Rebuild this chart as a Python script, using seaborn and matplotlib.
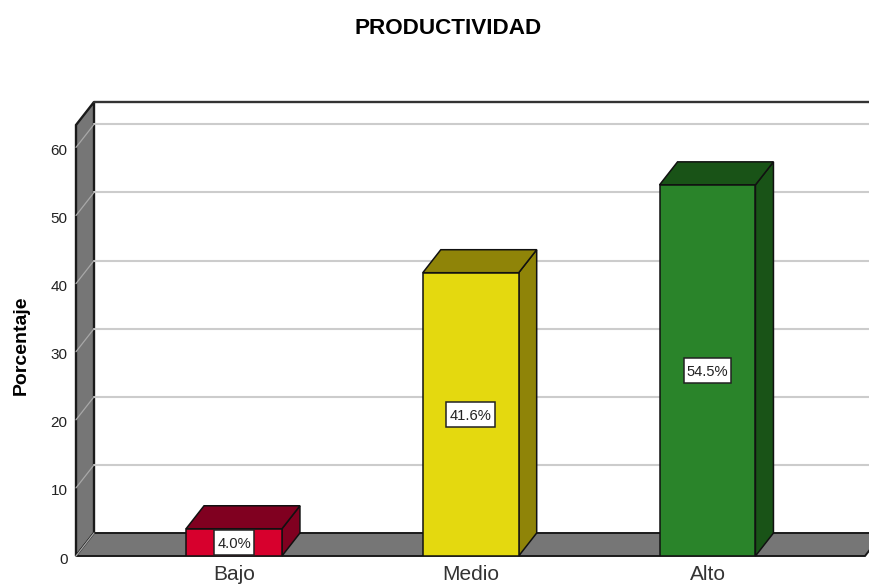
import matplotlib
matplotlib.use("Agg")
import matplotlib.pyplot as plt
from matplotlib.patches import Polygon, Rectangle
from matplotlib.transforms import ScaledTranslation
import pandas as pd
import seaborn as sns

categories = ["Bajo", "Medio", "Alto"]
values = [4.0, 41.6, 54.5]
labels = ["4.0%", "41.6%", "54.5%"]
front_colors = ["#D7002D", "#E4D90F", "#2A842A"]
dark_colors = ["#800020", "#8F8408", "#195317"]
yticks = [0, 10, 20, 30, 40, 50, 60]

W, H = 869, 587
FONT = "Liberation Sans"
WALL = "#767676"
GRID = "#CCCCCC"
EDGE = "#1A1A1A"
PX_DX, PX_DY = 18, 23
PX_X = 236.75
PX_Y = 6.81

sns.set_theme(style="white")
plt.rcParams["font.family"] = [FONT, "DejaVu Sans"]

fig = plt.figure(figsize=(W / 100, H / 100), dpi=100, facecolor="white")
L, R, T, B = 76, 869, 125, 556
ax = fig.add_axes([L / W, 1 - B / H, (R - L) / W, (B - T) / H])
ax.patch.set_alpha(0)

df = pd.DataFrame({"cat": categories, "val": values})
sns.barplot(data=df, x="cat", y="val", hue="cat", palette=front_colors,
            order=categories, hue_order=categories, dodge=False, legend=False,
            saturation=1, width=0.405, edgecolor="#111111", linewidth=1.1,
            zorder=3, ax=ax)

xmin, xmax = (L - 234) / PX_X, (R - 234) / PX_X
ymax = (B - T) / PX_Y
ax.set_xlim(xmin, xmax)
ax.set_ylim(0, ymax)
dx = PX_DX / PX_X
dy = PX_DY / PX_Y
floor_end = (865 - 234) / PX_X


def poly(points, face, z, edge=EDGE, lw=1.1):
    ax.add_patch(Polygon(points, closed=True, facecolor=face, edgecolor=edge,
                         linewidth=lw, zorder=z, clip_on=False, joinstyle="miter"))


# Left wall and floor
poly([(xmin, 0), (xmin, ymax), (xmin + dx, ymax + dy), (xmin + dx, dy)], WALL, 1, lw=1.7)
poly([(xmin, 0), (floor_end, 0), (floor_end + dx, dy), (xmin + dx, dy)], WALL, 1.2, lw=1.4)
# Back wall top edge
ax.plot([xmin + dx, xmax + dx], [ymax + dy, ymax + dy], color="#333333", lw=1.7,
        zorder=1.3, clip_on=False)

# Gridlines on the back wall, and their diagonals on the left wall
for t in yticks[1:]:
    ax.plot([xmin + dx, xmax + dx], [t + dy, t + dy], color=GRID, lw=1.5, zorder=1.1, clip_on=False)
for t in yticks:
    ax.plot([xmin, xmin + dx], [t, t + dy], color="#A8A8A8", lw=0.9, zorder=1.3, clip_on=False)

# 3D sides and tops of the bars, with their value labels
box_widths = [40, 49, 47]
for bar, dark, label, bw in zip(list(ax.patches[:3]), dark_colors, labels, box_widths):
    x0, x1 = bar.get_x(), bar.get_x() + bar.get_width()
    h = bar.get_height()
    cx = x0 + bar.get_width() / 2
    poly([(x1, 0), (x1 + dx, dy), (x1 + dx, h + dy), (x1, h)], dark, 2.5, edge="#111111")
    poly([(x0, h), (x1, h), (x1 + dx, h + dy), (x0 + dx, h + dy)], dark, 2.5, edge="#111111")
    w_box = bw / PX_X
    h_box = 24.5 / PX_Y
    ax.add_patch(Rectangle((cx - w_box / 2, h / 2 - h_box / 2), w_box, h_box, facecolor="white",
                           edgecolor="#222222", linewidth=1.1, zorder=4))
    ax.text(cx, h / 2, label, ha="center", va="center_baseline", fontsize=10.6, color="#222222",
            zorder=5, family=FONT)

ax.set_yticks(yticks)
ax.set_xticks(range(3), categories)
ax.tick_params(axis="y", length=0, pad=6, labelsize=11, labelcolor="#222222")
ax.tick_params(axis="x", length=0, pad=6.5, labelsize=15, labelcolor="#333333")
shift = ScaledTranslation(0, -2.0 / 100, fig.dpi_scale_trans)
for lab in ax.get_yticklabels():
    lab.set_transform(lab.get_transform() + shift)
ax.set_xlabel("")
ax.set_ylabel("")
for s in ax.spines.values():
    s.set_visible(False)

fig.text(448.5 / W, 1 - 28.5 / H, "PRODUCTIVIDAD", ha="center", va="center",
         fontsize=16.2, fontweight="bold", color="black")
fig.text(21 / W, 1 - 345 / H, "Porcentaje", ha="center", va="center", rotation=90,
         fontsize=14, fontweight="bold", color="black")

fig.savefig("out.png", dpi=100)
